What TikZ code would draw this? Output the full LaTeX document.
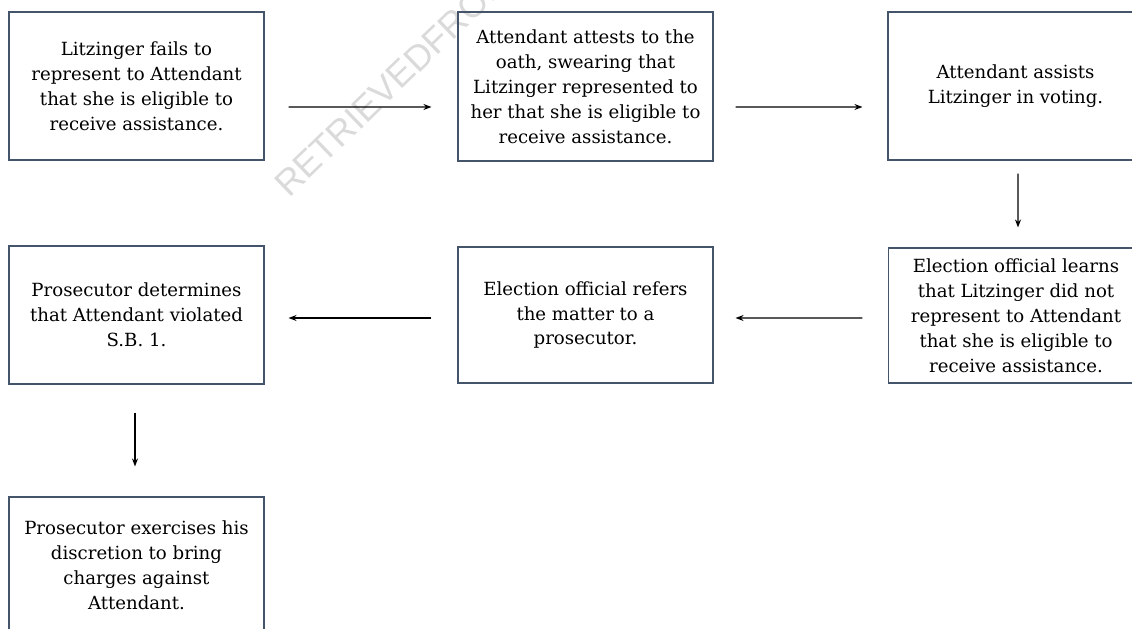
\documentclass[tikz,border=0pt]{standalone}
\usepackage{fontspec}
\setmainfont{DejaVu Serif}
\newfontfamily\wmfont{Liberation Sans}
\usetikzlibrary{arrows.meta}
\definecolor{boxline}{RGB}{68,84,106}
\definecolor{wmgray}{RGB}{218,218,218}
\begin{document}
\begin{tikzpicture}[x=1bp,y=-1bp,
  box/.style={draw=boxline, line width=1.1bp, minimum width=255bp, inner sep=0pt,
    align=center, font=\fontsize{18.2}{25}\selectfont},
  conn/.style={-{Stealth[length=8bp,width=6bp]}, line width=1.1bp},
  wmark/.style={text=wmgray, font=\wmfont\fontsize{36}{36}\selectfont, anchor=base west, rotate=44, inner sep=0pt}]
\useasboundingbox (0,0) rectangle (1132,629);
\clip (0,0) rectangle (1132,629);
\node[wmark] (wm) at (289,199) {RETRIEVEDFROM};
\node[box, minimum height=148bp] (b1) at (136.5,86) {Litzinger fails to\\represent to Attendant\\that she is eligible to\\receive assistance.};
\node[box, minimum height=149bp] (b2) at (585.5,86.5) {Attendant attests to the\\oath, swearing that\\Litzinger represented to\\her that she is eligible to\\receive assistance.};
\node[box, minimum height=148bp] (b3) at (1015.5,86) {Attendant assists\\Litzinger in voting.};
\node[box, minimum height=135bp] (b6) at (1016,315.5) {Election official learns\\that Litzinger did not\\represent to Attendant\\that she is eligible to\\receive assistance.};
\node[box, minimum height=136bp] (b5) at (585.5,315) {Election official refers\\the matter to a\\prosecutor.};
\node[box, minimum height=138bp] (b4) at (136.5,315) {Prosecutor determines\\that Attendant violated\\S.B. 1.};
\node[box, minimum height=136bp] (b7) at (136.5,565) {Prosecutor exercises his\\discretion to bring\\charges against\\Attendant.};
\draw[conn] ([shift={(24,21)}]b1.east) -- ([shift={(-26,20.5)}]b2.west);
\draw[conn] ([shift={(22,20.5)}]b2.east) -- ([shift={(-25,21)}]b3.west);
\draw[conn] ([shift={(2.5,13)}]b3.south) -- ([shift={(2,-20)}]b6.north);
\draw[conn] ([shift={(-25.5,2.5)}]b6.west) -- ([shift={(22,3)}]b5.east);
\draw[conn] ([shift={(-26,3)}]b5.west) -- ([shift={(24,3)}]b4.east);
\draw[conn] ([shift={(-1.5,28)}]b4.south) -- ([shift={(-1.5,-30)}]b7.north);
\end{tikzpicture}
\end{document}
